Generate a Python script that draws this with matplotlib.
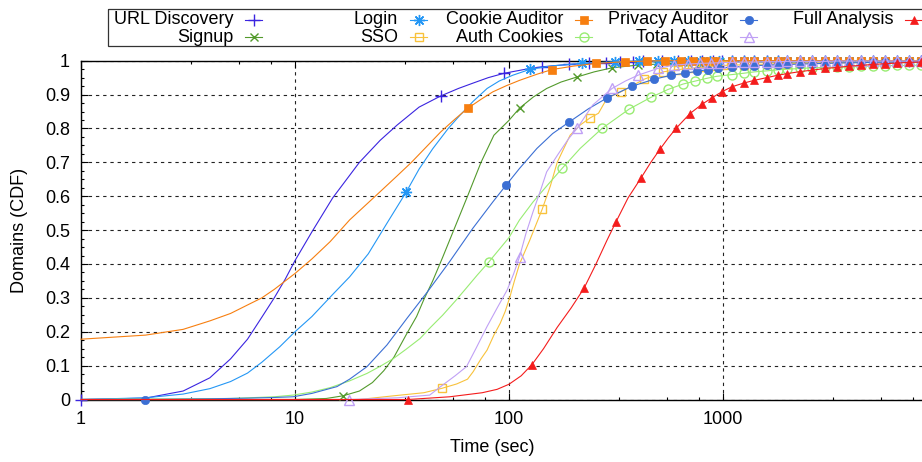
import matplotlib
matplotlib.use('Agg')
import matplotlib.pyplot as plt
import matplotlib.ticker as ticker
from matplotlib.patches import Rectangle

plt.rcParams['font.family'] = ['Liberation Sans', 'DejaVu Sans']
FS = 13

# x positions of the dense marker band on the right
tail_x = [1100, 1250, 1400, 1600, 1800, 2000, 2300, 2600, 3000, 3400, 3900, 4400, 5000, 5700, 6500, 7400, 8400]

url_x = [1, 2, 3, 4, 5, 6, 7, 8, 9, 10, 12, 15, 20, 25, 30, 38, 48, 58, 68, 80, 95, 120, 143, 190, 237, 284,
         331, 378, 425, 519, 613, 707, 801, 895, 990]
url_y = [0, 0.004, 0.025, 0.064, 0.12, 0.178, 0.243, 0.30, 0.355, 0.41, 0.495, 0.595, 0.70, 0.765, 0.81, 0.863,
         0.896, 0.918, 0.934, 0.95, 0.963, 0.975, 0.982, 0.989, 0.992, 0.994, 0.996, 0.997, 0.998, 0.998, 0.999,
         0.999, 0.999, 1.0, 1.0]
url_marks = [1, 48, 95, 143, 190, 237, 284, 331, 378, 425, 519, 613, 707, 801, 895, 990]
url_tail = [1.0, 1.0, 1.0, 1.0, 1.0, 1.0, 1.0, 1.0, 1.0, 1.0, 1.0, 1.0, 1.0, 1.0, 1.0, 1.0, 1.0]

sig_x = [1, 10, 14, 16.8, 20, 23, 26, 29, 33, 37, 40, 44, 49, 56, 64, 74, 85, 100, 112, 130, 150, 175, 208, 250,
         303, 399, 494, 590, 685, 780, 875, 970]
sig_y = [0, 0, 0.003, 0.011, 0.025, 0.05, 0.085, 0.125, 0.19, 0.245, 0.295, 0.35, 0.42, 0.51, 0.6, 0.7, 0.78,
         0.824, 0.86, 0.893, 0.918, 0.937, 0.952, 0.967, 0.979, 0.987, 0.99, 0.992, 0.993, 0.994, 0.995, 0.995]
sig_marks = [16.8, 112, 208, 303, 399, 494, 590, 685, 780, 875, 970]
sig_tail = [0.996, 0.996, 0.996, 0.997, 0.997, 0.997, 0.997, 0.998, 0.998, 0.998, 0.998, 0.998, 0.999, 0.999,
            0.999, 0.999, 0.999]

login_x = [1, 2, 3, 4, 5, 6, 7, 8.5, 10, 12, 15, 18, 22, 27, 33, 38, 44, 52, 59, 68, 79, 90, 104, 126, 160, 219,
           312, 405, 498, 591, 684, 777, 870, 963]
login_y = [0, 0.005, 0.016, 0.032, 0.053, 0.078, 0.11, 0.156, 0.2, 0.245, 0.31, 0.362, 0.43, 0.522, 0.611, 0.68,
           0.74, 0.8, 0.839, 0.88, 0.918, 0.94, 0.957, 0.975, 0.985, 0.992, 0.997, 0.999, 1.0, 1.0, 1.0, 1.0, 1.0,
           1.0]
login_marks = [33, 126, 219, 312, 405, 498, 591, 684, 777, 870, 963]
login_tail = [1.0, 1.0, 1.0, 1.0, 1.0, 1.0, 1.0, 1.0, 1.0, 1.0, 1.0, 1.0, 1.0, 1.0, 1.0, 1.0, 1.0]

sso_x = [1, 20, 28, 40, 48.6, 57, 64, 68, 74, 79, 85, 91, 96, 101, 106, 112, 125, 143, 156, 168, 193, 215, 239,
         262, 287, 333, 427, 524, 618, 713, 808, 903, 998]
sso_y = [0, 0, 0.01, 0.02, 0.033, 0.046, 0.06, 0.082, 0.12, 0.146, 0.19, 0.225, 0.26, 0.303, 0.35, 0.40, 0.47,
         0.562, 0.63, 0.70, 0.78, 0.81, 0.831, 0.845, 0.889, 0.908, 0.945, 0.967, 0.974, 0.978, 0.981, 0.984, 0.986]
sso_marks = [48.6, 143, 239, 333, 427, 524, 618, 713, 808, 903, 998]
sso_tail = [0.987, 0.988, 0.989, 0.99, 0.991, 0.991, 0.992, 0.993, 0.993, 0.994, 0.994, 0.995, 0.995, 0.996,
            0.996, 0.997, 0.997]

cookie_x = [1, 2, 3, 4, 5, 6, 7, 8, 10, 12, 14.6, 18, 24, 30, 35, 41, 48, 56, 64, 74, 84, 97, 112, 135, 159, 200,
            255, 348, 443, 538, 633, 728, 823, 918]
cookie_y = [0.178, 0.19, 0.207, 0.232, 0.254, 0.279, 0.30, 0.325, 0.372, 0.415, 0.466, 0.53, 0.603, 0.66, 0.70,
            0.745, 0.79, 0.828, 0.859, 0.886, 0.908, 0.926, 0.942, 0.96, 0.974, 0.984, 0.992, 0.997, 0.999, 1.0,
            1.0, 1.0, 1.0, 1.0]
cookie_marks = [64, 159, 255, 348, 443, 538, 633, 728, 823, 918]
cookie_tail = [1.0, 1.0, 1.0, 1.0, 1.0, 1.0, 1.0, 1.0, 1.0, 1.0, 1.0, 1.0, 1.0, 1.0, 1.0, 1.0, 1.0]

auth_x = [1, 5, 8, 9.8, 12, 14.6, 18, 21.7, 25, 28.7, 33, 38.4, 43, 49, 56, 63, 71, 80.5, 90, 100, 112, 129.5,
          150, 177, 215, 272, 364, 461, 553, 650, 743, 840, 935]
auth_y = [0, 0.003, 0.008, 0.013, 0.022, 0.035, 0.055, 0.077, 0.098, 0.12, 0.148, 0.18, 0.213, 0.249, 0.29,
          0.328, 0.367, 0.406, 0.443, 0.478, 0.53, 0.583, 0.63, 0.682, 0.741, 0.80, 0.857, 0.892, 0.915, 0.931,
          0.94, 0.948, 0.954]
auth_marks = [80.5, 177, 272, 364, 461, 553, 650, 743, 840, 935]
auth_tail = [0.959, 0.963, 0.967, 0.970, 0.973, 0.975, 0.977, 0.979, 0.980, 0.981, 0.982, 0.983, 0.984, 0.985,
             0.986, 0.986, 0.987]

priv_x = [1, 2, 4, 6, 8, 9.8, 12, 15.7, 18, 21.7, 26.9, 33.4, 41.6, 52.8, 67.7, 84, 97, 112, 135, 160, 190, 235,
          287, 377, 475, 571, 664, 760, 855, 950]
priv_y = [0, 0, 0.002, 0.004, 0.006, 0.008, 0.018, 0.038, 0.06, 0.097, 0.161, 0.24, 0.318, 0.407, 0.505, 0.583,
          0.633, 0.682, 0.741, 0.785, 0.818, 0.858, 0.89, 0.925, 0.945, 0.957, 0.963, 0.969, 0.974, 0.978]
priv_marks = [2, 97, 190, 287, 377, 475, 571, 664, 760, 855, 950]
priv_tail = [0.981, 0.983, 0.985, 0.987, 0.988, 0.989, 0.990, 0.991, 0.992, 0.993, 0.994, 0.994, 0.995, 0.996,
             0.996, 0.997, 0.997]

total_x = [1, 17.9, 30, 42.6, 48.6, 56, 63.3, 70, 78.9, 88, 98, 105, 112, 120, 129.5, 140, 150, 170, 190, 208,
           246, 303, 350, 400, 495, 590, 685, 780, 875, 970]
total_y = [0, 0, 0.005, 0.013, 0.041, 0.07, 0.097, 0.15, 0.215, 0.27, 0.323, 0.37, 0.421, 0.49, 0.554, 0.615,
           0.672, 0.725, 0.77, 0.80, 0.869, 0.918, 0.94, 0.957, 0.977, 0.987, 0.99, 0.992, 0.993, 0.994]
total_marks = [17.9, 112, 208, 303, 400, 495, 590, 685, 780, 875, 970]
total_tail = [0.995, 0.996, 0.996, 0.997, 0.997, 0.998, 0.998, 0.998, 0.998, 0.999, 0.999, 0.999, 0.999, 0.999,
              0.999, 0.999, 0.999]

full_x = [1, 33.7, 52.8, 75, 88, 100, 114, 128, 145, 168, 195, 224, 255, 287, 316, 360, 414, 460, 508, 555, 603,
          701, 796, 891, 986]
full_y = [0, 0, 0.008, 0.02, 0.03, 0.045, 0.07, 0.103, 0.15, 0.213, 0.27, 0.328, 0.40, 0.47, 0.524, 0.595, 0.654,
          0.70, 0.739, 0.772, 0.80, 0.844, 0.871, 0.891, 0.908]
full_marks = [33.7, 128, 224, 316, 414, 508, 603, 701, 796, 891, 986]
full_tail = [0.923, 0.934, 0.942, 0.95, 0.957, 0.962, 0.968, 0.972, 0.977, 0.98, 0.984, 0.986, 0.989, 0.991,
             0.993, 0.995, 0.996]

series = [
    ("URL Discovery", url_x, url_y, url_tail, url_marks,
     dict(color='#3a24e0', marker='+', ms=8, mew=1)),
    ("Signup", sig_x, sig_y, sig_tail, sig_marks,
     dict(color='#539a2c', marker='x', ms=6, mew=1)),
    ("Login", login_x, login_y, login_tail, login_marks,
     dict(color='#2497f5', marker=(8, 2, 0), ms=8, mew=1)),
    ("SSO", sso_x, sso_y, sso_tail, sso_marks,
     dict(color='#f8c23c', marker='s', ms=6, mew=1, mfc='none')),
    ("Cookie Auditor", cookie_x, cookie_y, cookie_tail, cookie_marks,
     dict(color='#f77f10', marker='s', ms=6, mew=0.5)),
    ("Auth Cookies", auth_x, auth_y, auth_tail, auth_marks,
     dict(color='#98ec72', marker='o', ms=6.5, mew=1, mfc='none')),
    ("Privacy Auditor", priv_x, priv_y, priv_tail, priv_marks,
     dict(color='#3b6fd4', marker='o', ms=6, mew=0.5)),
    ("Total Attack", total_x, total_y, total_tail, total_marks,
     dict(color='#c0a0f5', marker='^', ms=7, mew=1, mfc='none')),
    ("Full Analysis", full_x, full_y, full_tail, full_marks,
     dict(color='#f41c1c', marker='^', ms=6, mew=0.5)),
]

fig = plt.figure(figsize=(9.22, 4.62), dpi=100)
ax = fig.add_axes([81 / 922, 62.5 / 462, 856 / 922, 338.8 / 462])

for label, xs, ys, tail, marks, style in series:
    x = list(xs) + tail_x
    y = list(ys) + list(tail)
    idx = [x.index(m) for m in list(marks) + tail_x]
    ax.plot(x, y, lw=0.8, markevery=idx, clip_on=False, zorder=3, **style)

ax.set_xscale('log')
ax.set_xlim(1, 10000)
ax.set_ylim(0, 1)
ax.xaxis.set_major_locator(ticker.FixedLocator([1, 10, 100, 1000]))
ax.xaxis.set_major_formatter(ticker.FixedFormatter(['1', '10', '100', '1000']))
ax.xaxis.set_minor_locator(ticker.FixedLocator([3.25, 5.5, 7.75, 32.5, 55, 77.5, 325, 550, 775,
                                                3250, 5500, 7750]))
ax.xaxis.set_minor_formatter(ticker.NullFormatter())
ax.yaxis.set_major_locator(ticker.MultipleLocator(0.1))
ax.yaxis.set_minor_locator(ticker.MultipleLocator(0.025))
ax.yaxis.set_major_formatter(ticker.FormatStrFormatter('%g'))

ax.tick_params(which='both', direction='in', top=True, right=True, labelsize=FS)
ax.tick_params(which='major', length=5, width=0.8)
ax.tick_params(which='minor', length=2.5, width=0.8)
ax.tick_params(axis='y', pad=8)
ax.tick_params(axis='x', pad=8)
for s in ax.spines.values():
    s.set_linewidth(1.0)

ax.set_axisbelow(True)
ax.grid(True, which='major', color='#222222', linestyle=(0, (3, 3.5)), lw=0.8)

fig.text(20 / 922, 1 - 230 / 462, 'Domains (CDF)', rotation=90, ha='center', va='center', fontsize=FS)
fig.text(492 / 922, 1 - 448 / 462, 'Time (sec)', ha='center', va='center', fontsize=FS)

# gnuplot-style key on top, two rows, text right-aligned before the sample
lax = fig.add_axes([0, 0, 1, 1], zorder=5)
lax.set_xlim(0, 922)
lax.set_ylim(462, 0)
lax.axis('off')
lax.add_patch(Rectangle((108, 9), 830, 37, fill=False, ec='#333333', lw=0.9))
for i, (label, xs, ys, tail, marks, style) in enumerate(series):
    col, row = i // 2, i % 2
    tx = 233 + col * 165
    ty = 20 + row * 17
    lax.text(tx, ty, label, ha='right', va='center', fontsize=FS)
    lax.plot([tx + 12, tx + 29], [ty, ty], color=style['color'], lw=0.8)
    lax.plot([tx + 20.5], [ty], lw=0, **style)

fig.savefig('out.png', dpi=100)
